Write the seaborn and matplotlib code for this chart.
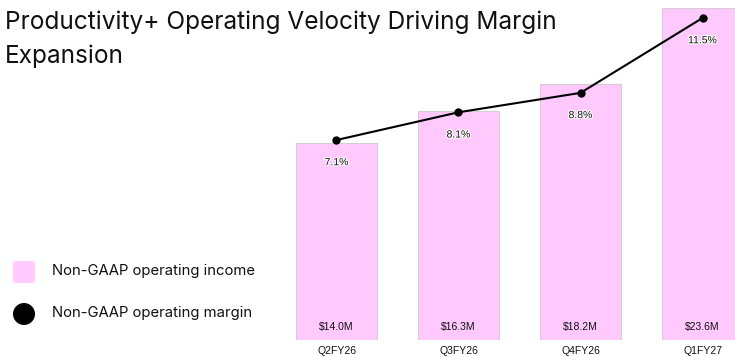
import matplotlib
matplotlib.use("Agg")
import matplotlib.pyplot as plt
import matplotlib.patheffects as pe
from matplotlib.patches import FancyBboxPatch, Circle
import seaborn as sns
import pandas as pd

quarters = ["Q2FY26", "Q3FY26", "Q4FY26", "Q1FY27"]
income_musd = [14.0, 16.3, 18.2, 23.6]
margin_pct = [7.1, 8.1, 8.8, 11.5]

title = "Productivity+ Operating Velocity Driving Margin\nExpansion"
legend_labels = ["Non-GAAP operating income", "Non-GAAP operating margin"]

PINK = "#FFC9FE"
INK = "#111111"
SMALL_FONT = ["Liberation Sans", "DejaVu Sans"]

sns.set_theme(style="white")
plt.rcParams["font.family"] = ["Inter", "DejaVu Sans"]

W, H = 735, 356
fig = plt.figure(figsize=(W / 100, H / 100), dpi=100)

df = pd.DataFrame({"quarter": quarters, "income": income_musd, "margin": margin_pct})

# bar axes: category centres every 122 px, first at x=336.5, baseline at y=340
left_px, bottom_px = 275.5, 340
ax = fig.add_axes([left_px / W, (H - bottom_px) / H, (W - left_px) / W, bottom_px / H])
sns.barplot(data=df, x="quarter", y="income", color=PINK, saturation=1,
            width=0.664, edgecolor="#d6cbd6", linewidth=0.8, ax=ax)
ax.set_xlim(-0.5, (W - 336.5) / 122)
ax.set_ylim(0, bottom_px / 14.07)
ax.set_xlabel("")
ax.set_ylabel("")
ax.set_yticks([])
ax.tick_params(axis="x", length=0, pad=4, labelsize=7.5, labelcolor=INK)
for lab in ax.get_xticklabels():
    lab.set_family(SMALL_FONT)
for s in ax.spines.values():
    s.set_visible(False)
ax.patch.set_alpha(0)

for i, v in enumerate(income_musd):
    ax.annotate(f"${v:.1f}M", (i, 0), xytext=(0, 9.5), textcoords="offset points",
                ha="center", va="center", fontsize=7.5, color=INK, family=SMALL_FONT)

# margin line on its own scale
ax2 = ax.twinx()
sns.lineplot(data=df, x="quarter", y="margin", color="black", linewidth=1.5,
             marker="o", markersize=6, markeredgewidth=0, ax=ax2, sort=False)
ax2.set_ylim(-3.1 / 27.73, 336.9 / 27.73)
ax2.set_xlim(ax.get_xlim())
ax2.set_yticks([])
ax2.set_ylabel("")
for s in ax2.spines.values():
    s.set_visible(False)

for i, m in enumerate(margin_pct):
    ax2.annotate(f"{m:.1f}%", (i, m), xytext=(0, -16), textcoords="offset points",
                 ha="center", va="center", fontsize=7.5, color=INK, family=SMALL_FONT,
                 path_effects=[pe.withStroke(linewidth=1.5, foreground="white")])

# title
fig.text(5 / W, 1 - 11 / H, title, ha="left", va="top", fontsize=17.6,
         color=INK, linespacing=1.52)

# legend drawn in pixel space
lg = fig.add_axes([0, 0, 1, 1])
lg.set_xlim(0, W)
lg.set_ylim(H, 0)
lg.axis("off")
lg.patch.set_alpha(0)
lg.add_patch(FancyBboxPatch((13, 261), 22, 22, boxstyle="round,pad=0,rounding_size=3",
                            facecolor=PINK, edgecolor="none"))
lg.add_patch(Circle((24, 314), 11, facecolor="black", edgecolor="none"))
lg.text(52, 271, legend_labels[0], ha="left", va="center", fontsize=10.7, color=INK)
lg.text(52, 313, legend_labels[1], ha="left", va="center", fontsize=10.7, color=INK)

fig.savefig("out.png", dpi=100)
